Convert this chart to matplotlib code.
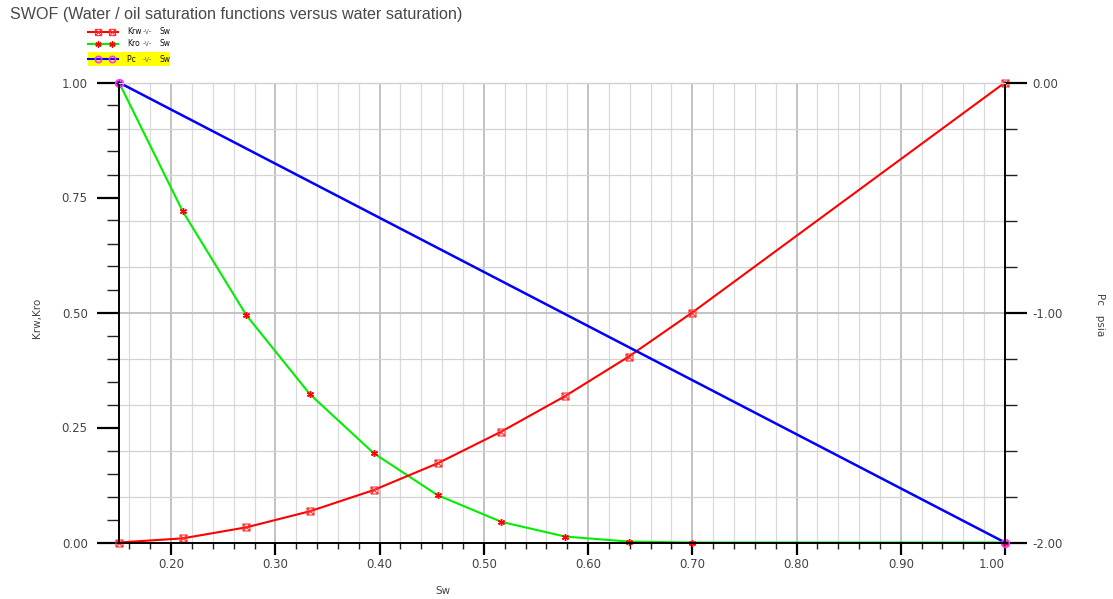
import matplotlib
matplotlib.use("Agg")
import matplotlib.pyplot as plt
import numpy as np
from matplotlib.lines import Line2D
from matplotlib.patches import Rectangle
from matplotlib.path import Path

# SWOF table: relative permeabilities vs water saturation
sw = [0.15, 0.2111, 0.2722, 0.3333, 0.3944, 0.4556, 0.5167, 0.5778, 0.6389, 0.70, 1.00]
krw = [0.0, 0.009, 0.033, 0.068, 0.114, 0.172, 0.241, 0.318, 0.404, 0.50, 1.00]
kro = [1.0, 0.72, 0.494, 0.322, 0.194, 0.103, 0.045, 0.013, 0.002, 0.0, 0.0]
# capillary pressure (psia), only end points are tabulated
sw_pc = [0.15, 1.00]
pc = [0.0, -2.0]

left_ticks = [0.0, 0.25, 0.5, 0.75, 1.0]
right_ticks = [-2.0, -1.0, 0.0]
x_ticks = [0.2, 0.3, 0.4, 0.5, 0.6, 0.7, 0.8, 0.9, 1.0]

W, H = 1113, 599
TXT = "#444444"
RED, GREEN, BLUE, MAG = "#ff0000", "#00ee00", "#0000ff", "#ff33ff"

# square with a cross, used for the Krw points
sq_x = Path([(-1, -1), (1, -1), (1, 1), (-1, 1), (-1, -1), (-1, -1), (1, 1), (-1, 1), (1, -1)],
            [Path.MOVETO, Path.LINETO, Path.LINETO, Path.LINETO, Path.LINETO,
             Path.MOVETO, Path.LINETO, Path.MOVETO, Path.LINETO])
KRW_MK = dict(marker=sq_x, markersize=5, markerfacecolor="none", markeredgecolor="#ff3030", markeredgewidth=0.8)
KRO_MK = dict(marker=(6, 2, 0), markersize=5, markeredgecolor=RED, markeredgewidth=1.0)
PC_MK = dict(marker="o", markersize=5.5, markerfacecolor="none", markeredgecolor=MAG, markeredgewidth=1.2)

fig = plt.figure(figsize=(W / 100, H / 100), dpi=100)
ax = fig.add_axes([119 / W, 1 - 542.5 / H, 886 / W, 460 / H])
ax2 = ax.twinx()

ax.set_xlim(0.15, 1.0)
ax.set_ylim(0.0, 1.0)
ax2.set_ylim(-2.0, 0.0)

# grid: vertical every 0.02 (darker every 0.1), horizontal at the Pc ticks
for xv in np.arange(0.16, 0.999, 0.02):
    major = abs(xv * 10 - round(xv * 10)) < 1e-6
    ax.axvline(xv, color="#c2c2c2" if major else "#dadada", lw=1.4 if major else 0.9, zorder=0)
for p in np.arange(-1.8, -0.1, 0.2):
    major = abs(p + 1.0) < 1e-6
    ax.axhline(1 + p / 2, color="#c2c2c2" if major else "#d3d3d3", lw=1.4 if major else 0.9, zorder=0)

ax.plot(sw, krw, color=RED, lw=1.5, zorder=3, clip_on=False, **KRW_MK)
ax.plot(sw, kro, color=GREEN, lw=1.5, zorder=2, clip_on=False, **KRO_MK)
ax2.plot(sw_pc, pc, color=BLUE, lw=1.8, clip_on=False, **PC_MK)

# ticks
ax.set_yticks(left_ticks)
ax.set_yticklabels([f"{v:.2f}" for v in left_ticks])
ax.set_yticks(np.arange(0.0, 1.001, 0.05), minor=True)
ax.set_xticks(x_ticks)
ax.set_xticklabels([f"{v:.2f}" for v in x_ticks])
ax.set_xticks(np.arange(0.16, 1.0, 0.02), minor=True)
ax.get_xticklabels()[-1].set_horizontalalignment("right")
ax2.set_yticks(right_ticks)
ax2.set_yticklabels([f"{v:.2f}" for v in right_ticks])
ax2.set_yticks(np.arange(-2.0, 0.001, 0.2), minor=True)

ax.tick_params(axis="y", which="major", direction="out", length=15.5, width=1.6, pad=7,
               labelsize=8.5, labelcolor=TXT, color="black")
ax.tick_params(axis="y", which="minor", direction="out", length=8.5, width=1.0, color="#222222")
ax.tick_params(axis="x", which="major", direction="out", length=8.5, width=1.6, pad=3,
               labelsize=8.5, labelcolor=TXT, color="black")
ax.tick_params(axis="x", which="minor", direction="out", length=4.5, width=1.0, color="#222222")
ax2.tick_params(axis="y", which="major", direction="out", length=15.5, width=1.6, pad=4,
                labelsize=8.5, labelcolor=TXT, color="black")
ax2.tick_params(axis="y", which="minor", direction="out", length=8.5, width=1.0, color="#222222")

for a in (ax, ax2):
    a.spines["top"].set_color("#d3d3d3")
    a.spines["top"].set_linewidth(0.9)
    for s in ("left", "right", "bottom"):
        a.spines[s].set_color("black")
        a.spines[s].set_linewidth(1.2)


def fx(x):
    return x / W


def fy(y):
    return 1 - y / H


# title and axis labels
fig.text(fx(10), fy(14), "SWOF (Water / oil saturation functions versus water saturation)",
         fontsize=11.6, family="Liberation Sans", color="#484848", va="center", ha="left")
fig.text(fx(37), fy(318), "Krw,Kro", fontsize=7.5, color=TXT, rotation=90, va="center", ha="center")
fig.text(fx(443), fy(591), "Sw", fontsize=7.5, color=TXT, va="center", ha="center")
fig.text(fx(1100), fy(315), "Pc   psia", fontsize=7.5, color=TXT, rotation=270, va="center", ha="center")

# legend block under the title
fig.patches.append(Rectangle((fx(88), fy(66)), fx(82), 14 / H, transform=fig.transFigure,
                             facecolor="#ffff00", edgecolor="none", zorder=0))
entries = [("Krw", RED, KRW_MK, 32), ("Kro", GREEN, KRO_MK, 44), ("Pc ", BLUE, PC_MK, 59)]
for name, col, mk, yy in entries:
    fig.add_artist(Line2D([fx(88), fx(118)], [fy(yy), fy(yy)], color=col, lw=1.5,
                          transform=fig.transFigure))
    fig.add_artist(Line2D([fx(98), fx(112)], [fy(yy), fy(yy)], linestyle="none",
                          transform=fig.transFigure, **{**mk, "markersize": 4.5}))
    fig.text(fx(127), fy(yy), name, fontsize=5.5, color="#111111", va="center", ha="left")
    fig.text(fx(143), fy(yy), "-v-", fontsize=5.5, color="#777777", va="center", ha="left")
    fig.text(fx(159), fy(yy), "Sw", fontsize=5.5, color="#111111", va="center", ha="left")

fig.savefig("out.png", dpi=100)
